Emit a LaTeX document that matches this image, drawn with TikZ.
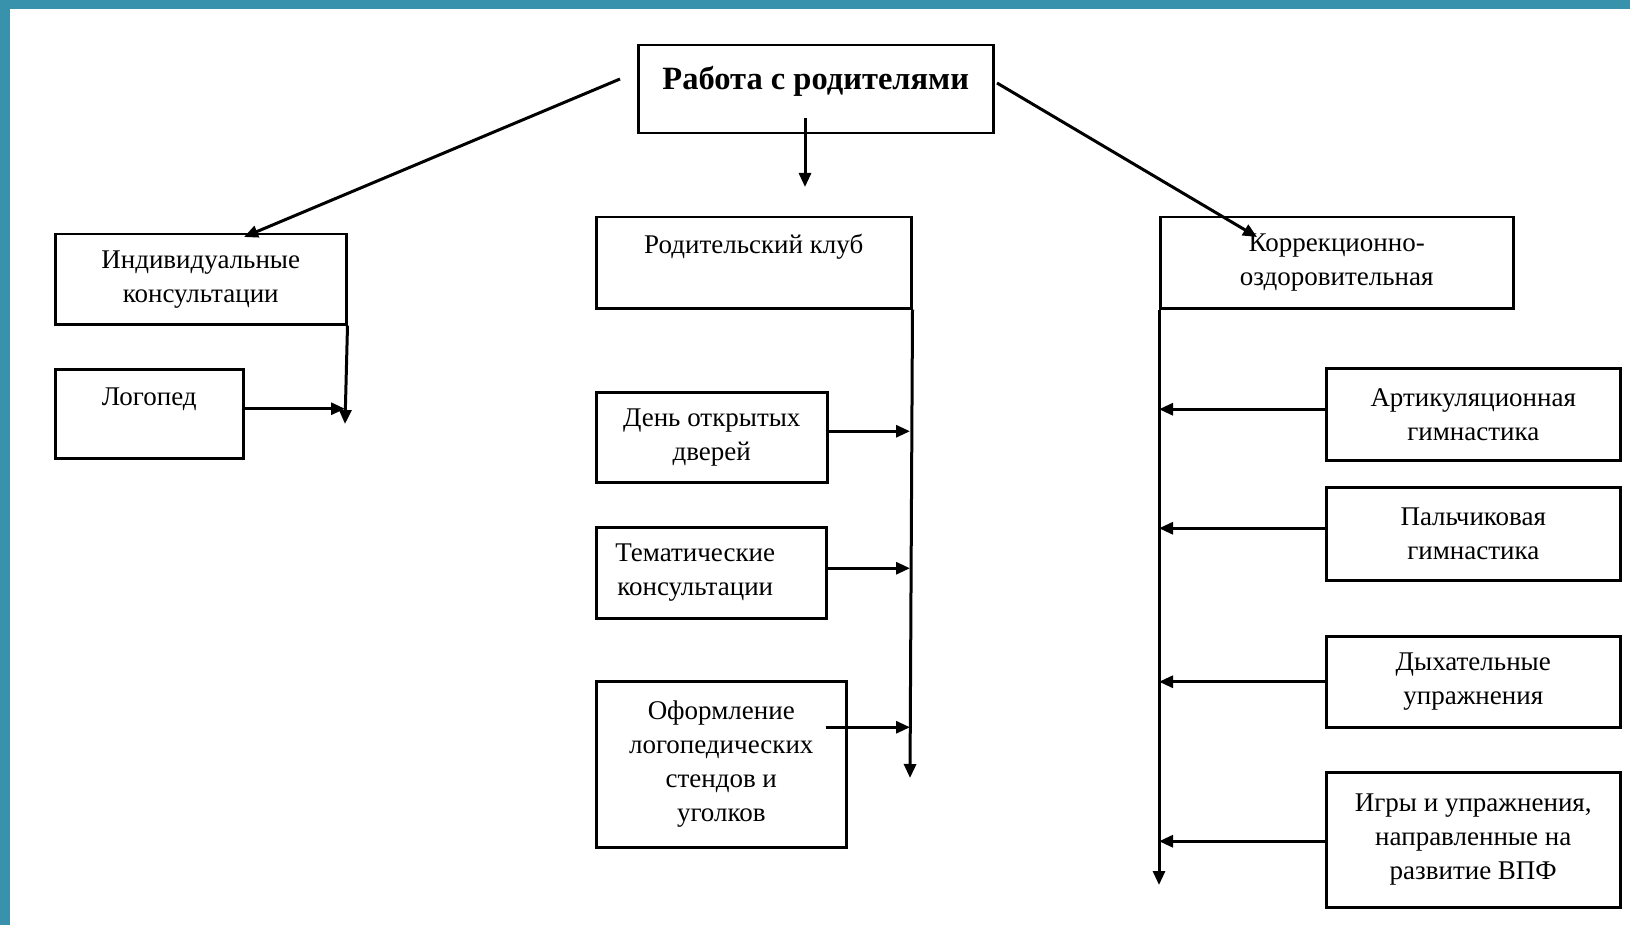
\documentclass[tikz,border=0pt]{standalone}
\usepackage{fontspec}
\setmainfont{Liberation Serif}
\usetikzlibrary{arrows.meta,calc}
\definecolor{framecol}{RGB}{56,146,171}
\begin{document}
\begin{tikzpicture}[x=1pt,y=-1pt,
  box/.style={draw,line width=2.5pt,inner sep=0pt,anchor=north west,align=center,
    font=\fontsize{27}{34}\selectfont},
  oneline/.style={text height=19pt,text depth=6pt},
  conn/.style={line width=3pt,-{Triangle[length=14pt,width=12pt]}}]
\useasboundingbox (0,0) rectangle (1630,925);
\fill[framecol] (0,0) rectangle (1630,9);
\fill[framecol] (0,0) rectangle (10,925);

% boxes
\node[box,minimum width=355pt,minimum height=88pt,text height=24pt,text depth=8pt,
  font=\fontsize{32.5}{38}\selectfont\bfseries] (top) at (637,44) {\raisebox{7.5pt}{Работа с родителями}};
\node[box,minimum width=291pt,minimum height=90pt] (ind) at (54,233) {Индивидуальные\\консультации};
\node[box,oneline,minimum width=188pt,minimum height=89pt] (log) at (54,368) {\raisebox{15pt}{Логопед}};
\node[box,oneline,minimum width=315pt,minimum height=91pt] (klub) at (595,216) {\raisebox{15.5pt}{Родительский клуб}};
\node[box,minimum width=231pt,minimum height=90pt] (day) at (595,391) {День открытых\\дверей};
\node[box,minimum width=230pt,minimum height=91pt] (tema) at (595,526) {\hspace*{-32pt}Тематические\\\hspace*{-32pt}консультации};
\node[box,minimum width=250pt,minimum height=166pt] (oform) at (595,680) {Оформление\\логопедических\\стендов и\\уголков};
\node[box,minimum width=353pt,minimum height=91pt] (korr) at (1159,216) {Коррекционно-\\оздоровительная};
\node[box,minimum width=294pt,minimum height=92pt] (art) at (1325,367) {Артикуляционная\\гимнастика};
\node[box,minimum width=294pt,minimum height=93pt] (pal) at (1325,486) {Пальчиковая\\гимнастика};
\node[box,minimum width=294pt,minimum height=91pt] (dyh) at (1325,635) {Дыхательные\\упражнения};
\node[box,minimum width=294pt,minimum height=135pt] (igry) at (1325,771) {Игры и упражнения,\\направленные на\\развитие ВПФ};

% free ends
\coordinate (ls) at (620,79);
\coordinate (le) at (244,237);
\coordinate (rs) at (997,83);
\coordinate (re) at (1257,237);
\coordinate (ds) at (805,118);
\coordinate (de) at (805,187);
\coordinate (lvend) at (345,424);
\coordinate (mvend) at (910,778);
\coordinate (rvend) at (1159,885);

% connectors from top
\draw[conn] (ls) -- (le);
\draw[conn] (rs) -- (re);
\draw[conn] (ds) -- (de);

% left branch
\draw[conn] (ind.south east) -- (lvend);
\draw[conn] ([yshift=5pt]log.east) -- ([yshift=5pt]log.east -| lvend);

% middle branch
\draw[conn] (klub.south east) -- (mvend);
\draw[conn] ([yshift=6pt]day.east) -- ([yshift=6pt]day.east -| mvend);
\draw[conn] ([yshift=4.5pt]tema.east) -- ([yshift=4.5pt]tema.east -| mvend);
\draw[conn] ([xshift=-22pt,yshift=37pt]oform.east) -- ([yshift=37pt]oform.east -| mvend);

% right branch
\draw[conn] (korr.south west) -- (rvend);
\draw[conn] ([yshift=5pt]art.west) -- ([yshift=5pt]art.west -| rvend);
\draw[conn] ([yshift=5.5pt]pal.west) -- ([yshift=5.5pt]pal.west -| rvend);
\draw[conn] (dyh.west) -- (dyh.west -| rvend);
\draw[conn] ([yshift=-1.5pt]igry.west) -- ([yshift=-1.5pt]igry.west -| rvend);
\end{tikzpicture}
\end{document}
